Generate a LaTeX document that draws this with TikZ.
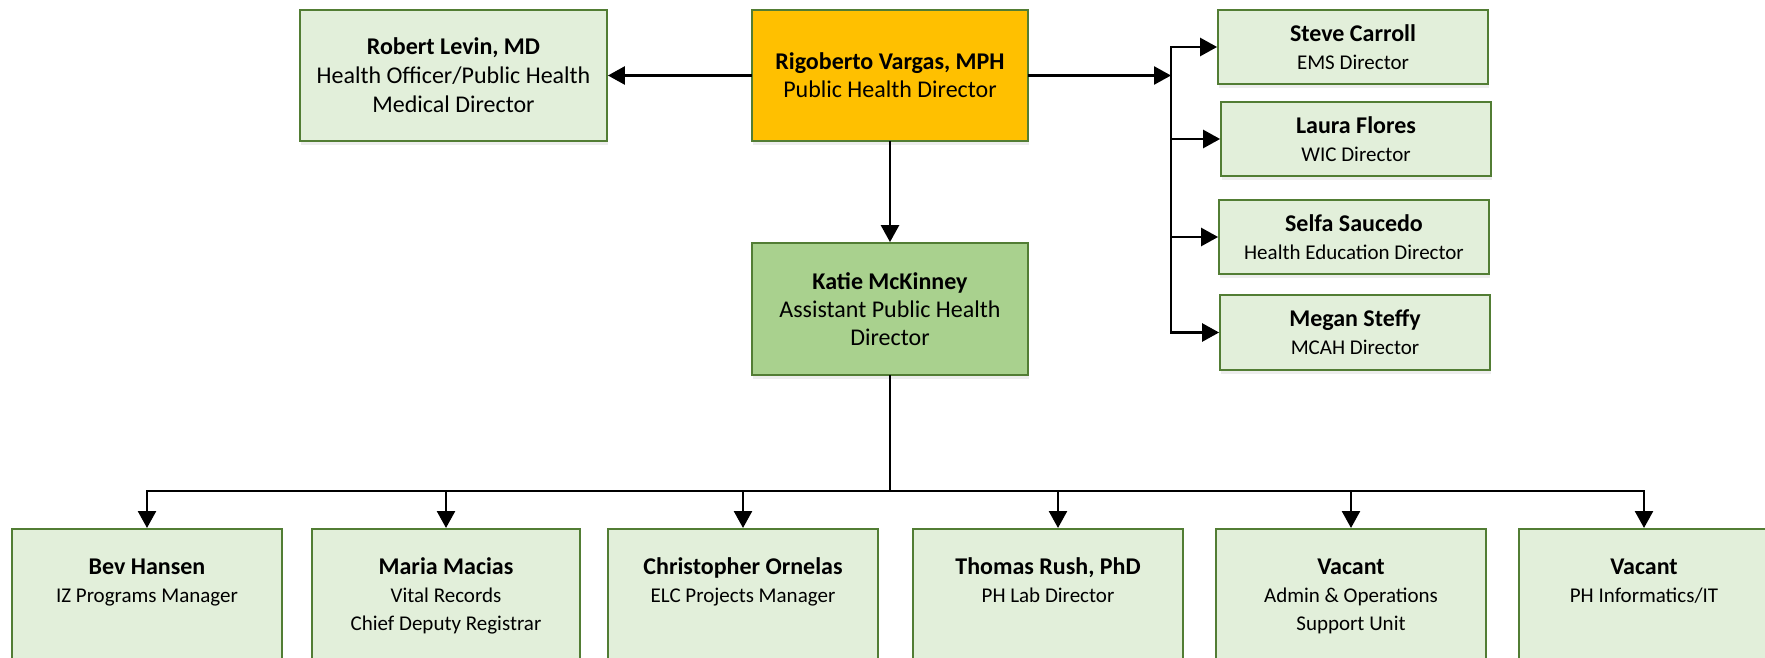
\documentclass[tikz,border=0pt]{standalone}
\usepackage{fontspec}
\setmainfont{Carlito}
\usetikzlibrary{arrows.meta,shadows}
\definecolor{boxfill}{HTML}{E2EFDA}
\definecolor{boxline}{HTML}{527D34}
\definecolor{gold}{HTML}{FFC000}
\definecolor{midgreen}{HTML}{A9D18E}
\newcommand{\topstrut}{\rule{0pt}{18pt}}
\tikzset{
  orgbox/.style={draw=boxline, line width=1.8pt, fill=boxfill, inner sep=0pt, align=center,
    drop shadow={shadow xshift=1pt, shadow yshift=-4pt, opacity=0.07, fill=black}},
  bigtxt/.style={font=\fontsize{24}{29}\selectfont},
  smalltxt/.style={font=\fontsize{21}{28}\selectfont},
  rightbox/.style={orgbox, smalltxt, minimum width=270pt, minimum height=74pt},
  botbox/.style={orgbox, anchor=north, minimum width=270pt, minimum height=200pt},
  bottxt/.style={smalltxt, align=center, anchor=north, inner sep=0pt},
  conn/.style={line width=2.6pt, black, line cap=rect},
  arr/.style={conn, -{Triangle[length=17pt,width=18pt]}},
}
\newcommand{\nm}[1]{{\fontsize{24}{28}\selectfont\bfseries #1}}
\begin{document}
\begin{tikzpicture}[x=1pt,y=-1pt]
\useasboundingbox (0,0) rectangle (1765,658);
\clip (0,0) rectangle (1765,658);

% top row
\node[orgbox, bigtxt, minimum width=307pt, minimum height=131pt] (rob) at (453.5,75.5)
  {\textbf{Robert Levin, MD}\\Health Officer/Public Health\\Medical Director};
\node[orgbox, bigtxt, fill=gold, minimum width=276pt, minimum height=131pt, font=\fontsize{24}{28}\selectfont] (rig) at (890,75.5)
  {\textbf{Rigoberto Vargas, MPH}\\Public Health Director};
\node[orgbox, font=\fontsize{24}{28}\selectfont, fill=midgreen, minimum width=276pt, minimum height=132pt] (katie) at (890,309)
  {\textbf{Katie McKinney}\\Assistant Public Health\\Director};

% right column
\node[rightbox] (steve) at (1353,47) {\nm{Steve Carroll}\\EMS Director};
\node[rightbox] (laura) at (1356,139) {\nm{Laura Flores}\\WIC Director};
\node[rightbox] (selfa) at (1354,237) {\nm{Selfa Saucedo}\\Health Education Director};
\node[rightbox, minimum height=75pt] (megan) at (1355,332.5) {\nm{Megan Steffy}\\MCAH Director};

% bottom row boxes
\node[botbox] (bev) at (147,528) {};
\node[botbox, minimum width=268pt] (maria) at (446,528) {};
\node[botbox] (chris) at (743,528) {};
\node[botbox] (thomas) at (1048,528) {};
\node[botbox] (vac1) at (1351,528) {};
\node[botbox] (vac2) at (1654,528) {};

\node[bottxt] (bevt) at (147,556.7) {\topstrut\nm{Bev Hansen}\\IZ Programs Manager};
\node[bottxt] (mariat) at (446,556.7) {\topstrut\nm{Maria Macias}\\Vital Records\\Chief Deputy Registrar};
\node[bottxt] (chrisst) at (743,556.7) {\topstrut\nm{Christopher Ornelas}\\ELC Projects Manager};
\node[bottxt] (thomast) at (1048,556.7) {\topstrut\nm{Thomas Rush, PhD}\\PH Lab Director};
\node[bottxt] (vac1t) at (1351,556.7) {\topstrut\nm{Vacant}\\Admin \& Operations\\Support Unit};
\node[bottxt] (vac2t) at (1644,556.7) {\topstrut\nm{Vacant}\\PH Informatics/IT};

% connectors top
\draw[arr] (rig.west) -- (rob.east);
\coordinate (hub) at (1171,75.5);
\coordinate (bT) at (1171,47);
\coordinate (bB) at (1171,332.5);
\draw[arr] (rig.east) -- (hub);
\draw[conn] (bT) -- (bB);
\draw[arr] (bT) -- (steve.west);
\draw[arr] (laura.west -| bT) -- (laura.west);
\draw[arr] (selfa.west -| bT) -- (selfa.west);
\draw[arr] (bB) -- (megan.west);
\draw[arr] (rig.south) -- (katie.north);

% connectors bottom
\coordinate (kb) at (890,491);
\coordinate (bL) at (147,491);
\coordinate (bR) at (1644,491);
\coordinate (tA) at (1058,491);
\draw[conn] (katie.south) -- (kb);
\draw[conn] (bL) -- (bR);
\draw[arr] (bL) -- (bev.north);
\draw[arr] (maria.north |- bL) -- (maria.north);
\draw[arr] (chris.north |- bL) -- (chris.north);
\draw[arr] (tA) -- (tA |- thomas.north);
\draw[arr] (vac1.north |- bL) -- (vac1.north);
\draw[arr] (bR) -- (bR |- vac2.north);
\end{tikzpicture}
\end{document}
